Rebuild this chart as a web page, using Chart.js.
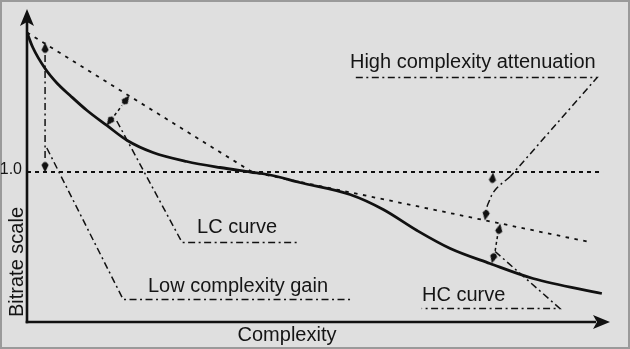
<!DOCTYPE html>
<html><head><meta charset="utf-8">
<script src="https://cdn.jsdelivr.net/npm/chart.js@4.4.1/dist/chart.umd.min.js"></script>
<style>html,body{margin:0;padding:0;background:#dfdfdf;}</style>
</head><body>
<canvas id="c" width="630" height="349"></canvas>
<script>
// ---- data (Complexity on x, Bitrate scale on y; 1.0 = reference line) ----
const curveX = [0, 0.10, 0.31, 0.52, 0.74, 1.03, 1.37, 1.72, 2.16, 2.74, 3.31, 3.83, 4.17, 4.68, 5.54, 6.11, 6.69, 7.26, 7.94, 8.68, 9.86];
const curveY = [1.93, 1.83, 1.69, 1.59, 1.51, 1.41, 1.31, 1.21, 1.13, 1.07, 1.03, 1.00, 0.98, 0.93, 0.85, 0.75, 0.61, 0.49, 0.39, 0.29, 0.19];
const secantX = [0, 3.86, 9.69];
const secantY = [1.93, 1.00, 0.53];
const unityX = [0, 9.88];
const unityY = [1.0, 1.0];
const gainLabelX = [0.34, 1.65, 5.58];
const gainLabelY = [1.16, 0.15, 0.15];
const lcLabelX = [1.54, 2.66, 4.68];
const lcLabelY = [1.34, 0.53, 0.53];
const hcLabelX = [8.03, 9.14, 6.77];
const hcLabelY = [0.47, 0.09, 0.09];
const attLabelX = [5.64, 9.78, 8.29];
const attLabelY = [1.63, 1.63, 0.97];
const attBendX = [8.29, 8.03, 7.91, 7.87];
const attBendY = [0.97, 0.88, 0.79, 0.74];
const gainLinkX = [0.31, 0.31];
const gainLinkY = [1.78, 1.08];
const lcLinkX = [1.50, 1.63];
const lcLinkY = [1.377, 1.443];
const hcLinkX = [8.07, 8.03];
const hcLinkY = [0.573, 0.473];
const arrowX = [0.31, 0.31, 1.688, 1.434, 7.985, 7.873, 8.096, 8.002];
const arrowY = [1.82, 1.04, 1.475, 1.345, 0.953, 0.72, 0.613, 0.433];
const arrowRot = [0, 180, 36.5, 216.5, 5, 190, 12, 195];
const yTickLabel = '1.0';
const xTitle = 'Complexity';
const yTitle = 'Bitrate scale';
const annotations = [
  {text: 'High complexity attenuation', x: 5.54, y: 1.693},
  {text: 'LC curve', x: 2.916, y: 0.593},
  {text: 'Low complexity gain', x: 2.075, y: 0.20},
  {text: 'HC curve', x: 6.775, y: 0.14}
];

const zip = (xs, ys) => xs.map((x, i) => ({x, y: ys[i]}));
const INK = '#111111';
const DASHDOT = [7, 3.5, 2, 3.5];
const FONT = '"Liberation Sans", Arial, sans-serif';

// arrowhead marker
const arrowImg = document.createElement('canvas');
arrowImg.width = 8; arrowImg.height = 13;
(function(){
  const g = arrowImg.getContext('2d');
  g.fillStyle = INK;
  g.beginPath();
  g.moveTo(4, 0);
  g.lineTo(7.6, 7.5);
  g.quadraticCurveTo(4, 13.5, 0.4, 7.5);
  g.closePath();
  g.fill();
})();

function lineDs(xs, ys, extra) {
  return Object.assign({
    data: zip(xs, ys), showLine: true, pointRadius: 0, borderColor: INK,
    borderWidth: 1.6, fill: false, tension: 0
  }, extra || {});
}

const frame = {
  id: 'frame',
  beforeDraw(chart) {
    const ctx = chart.ctx;
    ctx.save();
    ctx.fillStyle = '#dfdfdf';
    ctx.fillRect(0, 0, chart.width, chart.height);
    ctx.strokeStyle = '#9a9a9a';
    ctx.lineWidth = 2;
    ctx.strokeRect(1, 1, chart.width - 2, chart.height - 2);
    ctx.restore();
  },
  afterDatasetsDraw(chart) {
    const ctx = chart.ctx, ca = chart.chartArea;
    const xs = chart.scales.x, ys = chart.scales.y;
    const ox = xs.getPixelForValue(0), oy = ys.getPixelForValue(0);
    ctx.save();
    ctx.strokeStyle = INK; ctx.fillStyle = INK; ctx.lineWidth = 2.6; ctx.setLineDash([]);
    ctx.beginPath(); ctx.moveTo(ox, oy + 1.3); ctx.lineTo(ox, ca.top + 14); ctx.stroke();
    ctx.beginPath(); ctx.moveTo(ox - 1.3, oy); ctx.lineTo(ca.right - 14, oy); ctx.stroke();
    // y arrowhead
    ctx.beginPath();
    ctx.moveTo(ox, ca.top + 1);
    ctx.lineTo(ox + 7, ca.top + 18);
    ctx.lineTo(ox, ca.top + 14);
    ctx.lineTo(ox - 7, ca.top + 18);
    ctx.closePath(); ctx.fill();
    // x arrowhead
    ctx.beginPath();
    ctx.moveTo(ca.right, oy);
    ctx.lineTo(ca.right - 17, oy - 7);
    ctx.lineTo(ca.right - 13, oy);
    ctx.lineTo(ca.right - 17, oy + 7);
    ctx.closePath(); ctx.fill();
    // texts
    ctx.fillStyle = '#151515';
    ctx.font = '20px ' + FONT;
    ctx.textBaseline = 'alphabetic';
    ctx.textAlign = 'left';
    annotations.forEach(a => {
      ctx.fillText(a.text, xs.getPixelForValue(a.x), ys.getPixelForValue(a.y));
    });
    ctx.textAlign = 'center';
    ctx.fillText(xTitle, 287, oy + 19);
    ctx.save();
    ctx.translate(ox - 4, 262);
    ctx.rotate(-Math.PI / 2);
    ctx.fillText(yTitle, 0, 0);
    ctx.restore();
    ctx.font = '16px ' + FONT;
    ctx.textAlign = 'right';
    ctx.textBaseline = 'middle';
    ctx.fillText(yTickLabel, ox - 5, ys.getPixelForValue(1.0) - 2);
    ctx.restore();
  }
};

new Chart(document.getElementById('c'), {
  type: 'scatter',
  data: {
    datasets: [
      lineDs(unityX, unityY, {borderDash: [4, 4], borderWidth: 1.8}),
      lineDs(secantX, secantY, {borderDash: [3.5, 5.5], borderWidth: 1.8}),
      lineDs(gainLabelX, gainLabelY, {borderDash: DASHDOT, borderWidth: 1.5}),
      lineDs(lcLabelX, lcLabelY, {borderDash: DASHDOT, borderWidth: 1.5}),
      lineDs(hcLabelX, hcLabelY, {borderDash: DASHDOT, borderWidth: 1.5}),
      lineDs(attLabelX, attLabelY, {borderDash: DASHDOT, borderWidth: 1.5}),
      lineDs(attBendX, attBendY, {borderDash: DASHDOT, borderWidth: 1.5, tension: 0.4}),
      lineDs(gainLinkX, gainLinkY, {borderDash: DASHDOT, borderWidth: 1.5}),
      lineDs(lcLinkX, lcLinkY, {borderDash: [3, 3], borderWidth: 1.5}),
      lineDs(hcLinkX, hcLinkY, {borderDash: [3, 3], borderWidth: 1.5}),
      lineDs(curveX, curveY, {borderWidth: 2.8, cubicInterpolationMode: 'monotone'}),
      {
        data: zip(arrowX, arrowY), showLine: false, pointStyle: arrowImg,
        pointRadius: 3, rotation: arrowRot, pointHoverRadius: 3
      }
    ]
  },
  options: {
    responsive: false,
    animation: false,
    devicePixelRatio: 1,
    layout: {padding: {left: 27, right: 20, top: 8, bottom: 27}},
    plugins: {legend: {display: false}, tooltip: {enabled: false}},
    events: [],
    scales: {
      x: {type: 'linear', min: 0, max: 10, display: false},
      y: {type: 'linear', min: 0, max: 2.0933, display: false}
    }
  },
  plugins: [frame]
});
</script>
</body></html>
